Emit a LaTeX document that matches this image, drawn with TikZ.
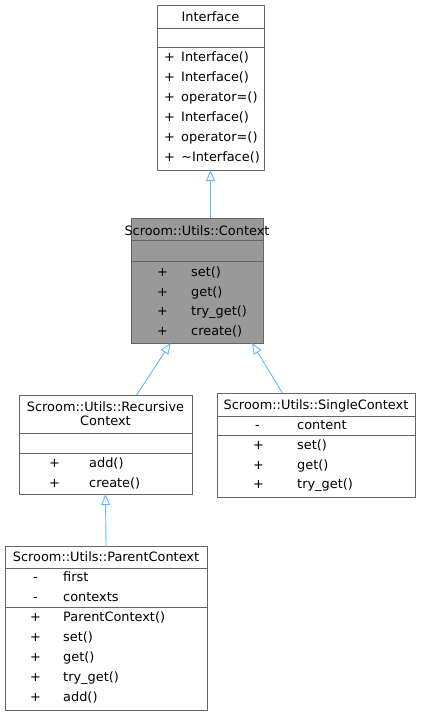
\documentclass[tikz,border=0pt]{standalone}
\usepackage{fontspec}
\setmainfont{DejaVu Sans}
\usetikzlibrary{arrows.meta,calc}
\definecolor{bd}{HTML}{666666}
\definecolor{ctxfill}{HTML}{999999}
\definecolor{arr}{HTML}{63B8FF}
\tikzset{
  umlbox/.style={draw=bd, line width=0.8pt, fill=white, anchor=north west, inner sep=0pt, outer sep=0pt},
  divider/.style={draw=bd, line width=0.8pt},
  ttl/.style={font=\fontsize{12.9}{14}\selectfont, inner sep=0pt, align=center, text height=10pt, text depth=1pt},
  row/.style={font=\fontsize{12.9}{14}\selectfont, inner sep=0pt, anchor=west, text height=10pt, text depth=1pt},
  inherit/.style={draw=arr, line width=0.9pt, -{Triangle[open, length=11pt, width=9pt, fill=white]}}
}
\begin{document}
\begin{tikzpicture}[x=1pt,y=-1pt]
\useasboundingbox (0,0) rectangle (422,716);
% Interface
\node[umlbox, minimum width=107pt, minimum height=165pt] (iface) at (157,5) {};
\draw[divider] (157,28) -- (264,28);
\draw[divider] (157,47) -- (264,47);
\node[ttl] (ifaceT) at (210.5,17) {Interface};
\foreach \t [count=\i from 0] in {Interface(),Interface(),operator=(),Interface(),operator=(),\textasciitilde Interface()} {
  \node[row] (ip\i) at (164,57+20*\i) {+};
  \node[row] (im\i) at (181,57+20*\i) {\t};
}
% Context
\node[umlbox, fill=ctxfill, minimum width=132pt, minimum height=125pt] (ctx) at (131,218) {};
\draw[divider] (131,240) -- (263,240);
\draw[divider] (131,261) -- (263,261);
\node[ttl] (ctxT) at (197,230.5) {Scroom::Utils::Context};
\foreach \t [count=\i from 0] in {set(),get(),try\_get(),create()} {
  \node[row] (cp\i) at (157,272+19.5*\i) {+};
  \node[row] (cm\i) at (191,272+19.5*\i) {\t};
}
% Recursive
\node[umlbox, minimum width=173pt, minimum height=99pt] (rec) at (19,395) {};
\draw[divider] (19,433) -- (192,433);
\draw[divider] (19,453) -- (192,453);
\node[ttl] (recT1) at (105.5,407) {Scroom::Utils::Recursive};
\node[ttl] (recT2) at (105.5,421) {Context};
\foreach \t [count=\i from 0] in {add(),create()} {
  \node[row] (rp\i) at (49,463+20*\i) {+};
  \node[row] (rm\i) at (89,463+20*\i) {\t};
}
% Single
\node[umlbox, minimum width=198pt, minimum height=104pt] (single) at (217,393) {};
\draw[divider] (217,416) -- (415,416);
\draw[divider] (217,435) -- (415,435);
\node[ttl] (sT) at (316,405) {Scroom::Utils::SingleContext};
\node[row] (sa0) at (255,425) {-};
\node[row] (sn0) at (297,425) {content};
\foreach \t [count=\i from 0] in {set(),get(),try\_get()} {
  \node[row] (sp\i) at (253,445+19.5*\i) {+};
  \node[row] (sm\i) at (297,445+19.5*\i) {\t};
}
% Parent
\node[umlbox, minimum width=202pt, minimum height=164pt] (par) at (5,546) {};
\draw[divider] (5,568) -- (207,568);
\draw[divider] (5,607) -- (207,607);
\node[ttl] (pT) at (106,557) {Scroom::Utils::ParentContext};
\node[row] (pa0) at (33,577) {-};
\node[row] (pn0) at (63,577) {first};
\node[row] (pa1) at (33,597) {-};
\node[row] (pn1) at (63,597) {contexts};
\foreach \t [count=\i from 0] in {ParentContext(),set(),get(),try\_get(),add()} {
  \node[row] (pp\i) at (30,617+20*\i) {+};
  \node[row] (pm\i) at (63,617+20*\i) {\t};
}
% inheritance arrows
\draw[inherit] (ctx.north -| iface.south) -- (iface.south);
\draw[inherit] ($(rec.north west)!0.68!(rec.north east)$) -- ($(ctx.south west)!0.3!(ctx.south east)$);
\draw[inherit] ($(single.north west)!0.33!(single.north east)$) -- ($(ctx.south west)!0.917!(ctx.south east)$);
\draw[inherit] (par.north) -- (rec.south);
\end{tikzpicture}
\end{document}
